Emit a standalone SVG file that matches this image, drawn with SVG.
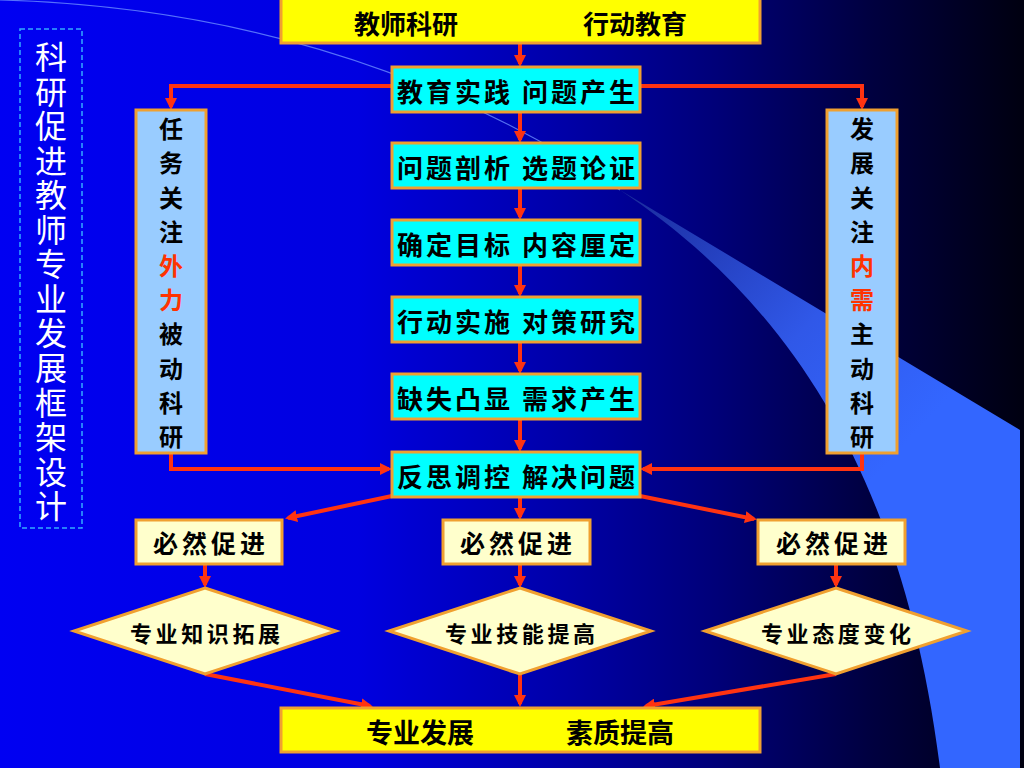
<svg xmlns="http://www.w3.org/2000/svg" width="1024" height="768" viewBox="0 0 1024 768">
<defs>
<linearGradient id="bg" x1="0" y1="0" x2="1" y2="0">
<stop offset="0" stop-color="#0000f2"/>
<stop offset="0.35" stop-color="#0000e0"/>
<stop offset="0.55" stop-color="#0000a8"/>
<stop offset="0.7" stop-color="#000078"/>
<stop offset="0.85" stop-color="#000040"/>
<stop offset="1" stop-color="#000010"/>
</linearGradient>
<linearGradient id="wedge" gradientUnits="userSpaceOnUse" x1="620" y1="190" x2="900" y2="450">
<stop offset="0" stop-color="#1a2a9a"/>
<stop offset="0.6" stop-color="#3058e8"/>
<stop offset="1" stop-color="#3366ff"/>
</linearGradient>
<marker id="ah" viewBox="0 0 12 12" refX="9" refY="6" markerWidth="12" markerHeight="12" markerUnits="userSpaceOnUse" orient="auto">
<path d="M0,0 L12,6 L0,12 z" fill="#ff3311"/>
</marker>
<style>
.yel{fill:#ffff00;stroke:#f0a030;stroke-width:3}
.cy{fill:#00ffff;stroke:#f0a030;stroke-width:3}
.lb{fill:#99ccff;stroke:#f0a030;stroke-width:3}
.cr{fill:#ffffcc;stroke:#f0a030;stroke-width:3}
.t{font-family:"Noto Sans CJK SC","Noto Sans",sans-serif;font-weight:700;fill:#000;text-anchor:middle;dominant-baseline:central}
.red{fill:#ff3300}
.c{fill:none;stroke:#ff3311;stroke-width:4;marker-end:url(#ah)}
.title{font-family:"Noto Sans CJK SC","Noto Sans",sans-serif;font-size:32px;fill:#ffffff;writing-mode:vertical-rl;text-orientation:upright}
.vt{writing-mode:vertical-rl;text-orientation:upright;text-anchor:start}
</style>
</defs>
<rect x="0" y="0" width="1024" height="768" fill="url(#bg)"/>
<g id="decor">
<path d="M620,190 L1020,430 L1020,768 L940,768 C900,450 770,290 620,190 Z" fill="url(#wedge)"/>
<path d="M0,0 Q350,10 620,190" fill="none" stroke="#6a8cff" stroke-width="1.2" opacity="0.8"/>
</g>
<g id="title">
<rect x="20" y="29" width="62" height="499" fill="none" stroke="#33aaff" stroke-width="1.5" stroke-dasharray="5,3"/>
<text class="title" x="51" y="41" textLength="481" lengthAdjust="spacing">科研促进教师专业发展框架设计</text>
</g>
<g id="connectors">
<path class="c" d="M520,43 L520,64"/>
<path class="c" d="M392,86 L171,86 L171,107"/>
<path class="c" d="M640,86 L862,86 L862,107"/>
<path class="c" d="M520,112 L520,140"/>
<path class="c" d="M520,188 L520,217"/>
<path class="c" d="M520,265 L520,294"/>
<path class="c" d="M520,342 L520,371"/>
<path class="c" d="M520,419 L520,449"/>
<path class="c" d="M171,453 L171,469 L389,469"/>
<path class="c" d="M862,453 L862,469 L643,469"/>
<path class="c" d="M392,496 L288,518"/>
<path class="c" d="M520,497 L520,517"/>
<path class="c" d="M640,496 L754,519"/>
<path class="c" d="M205,564 L205,585"/>
<path class="c" d="M520,564 L520,585"/>
<path class="c" d="M836,564 L836,585"/>
<path class="c" d="M205,674 L370,706"/>
<path class="c" d="M520,674 L520,704"/>
<path class="c" d="M836,674 L646,706"/>
</g>
<g id="n-top">
<rect class="yel" x="281" y="-2" width="479" height="45"/>
<text class="t" font-size="26" y="22"><tspan x="406">教师科研</tspan><tspan x="635">行动教育</tspan></text>
</g>
<g id="n-c1"><rect class="cy" x="392" y="67" width="248" height="45"/><text class="t" font-size="26" x="516" y="90" textLength="238" lengthAdjust="spacing">教育实践 问题产生</text></g>
<g id="n-c2"><rect class="cy" x="392" y="143" width="248" height="45"/><text class="t" font-size="26" x="516" y="166" textLength="238" lengthAdjust="spacing">问题剖析 选题论证</text></g>
<g id="n-c3"><rect class="cy" x="392" y="220" width="248" height="45"/><text class="t" font-size="26" x="516" y="243" textLength="238" lengthAdjust="spacing">确定目标 内容厘定</text></g>
<g id="n-c4"><rect class="cy" x="392" y="297" width="248" height="45"/><text class="t" font-size="26" x="516" y="320" textLength="238" lengthAdjust="spacing">行动实施 对策研究</text></g>
<g id="n-c5"><rect class="cy" x="392" y="374" width="248" height="45"/><text class="t" font-size="26" x="516" y="397" textLength="238" lengthAdjust="spacing">缺失凸显 需求产生</text></g>
<g id="n-c6"><rect class="cy" x="392" y="452" width="248" height="45"/><text class="t" font-size="26" x="516" y="475" textLength="238" lengthAdjust="spacing">反思调控 解决问题</text></g>
<g id="n-left">
<rect class="lb" x="136" y="110" width="70" height="343"/>
<text class="t vt" font-size="24" x="171" y="117" textLength="332" lengthAdjust="spacing">任务关注<tspan class="red">外力</tspan>被动科研</text>
</g>
<g id="n-right">
<rect class="lb" x="827" y="110" width="70" height="343"/>
<text class="t vt" font-size="24" x="862" y="117" textLength="332" lengthAdjust="spacing">发展关注<tspan class="red">内需</tspan>主动科研</text>
</g>
<g id="n-b1"><rect class="cr" x="136" y="520" width="146" height="44"/><text class="t" font-size="25" x="209" y="542" textLength="112" lengthAdjust="spacing">必然促进</text></g>
<g id="n-b2"><rect class="cr" x="443" y="520" width="147" height="44"/><text class="t" font-size="25" x="516" y="542" textLength="112" lengthAdjust="spacing">必然促进</text></g>
<g id="n-b3"><rect class="cr" x="758" y="520" width="147" height="44"/><text class="t" font-size="25" x="832" y="542" textLength="112" lengthAdjust="spacing">必然促进</text></g>
<g id="n-d1"><polygon class="cr" points="205,588 336,631 205,674 74,631"/><text class="t" font-size="22" x="205" y="632" textLength="150" lengthAdjust="spacing">专业知识拓展</text></g>
<g id="n-d2"><polygon class="cr" points="520,588 651,631 520,674 389,631"/><text class="t" font-size="22" x="520" y="632" textLength="150" lengthAdjust="spacing">专业技能提高</text></g>
<g id="n-d3"><polygon class="cr" points="836,588 967,631 836,674 705,631"/><text class="t" font-size="22" x="836" y="632" textLength="150" lengthAdjust="spacing">专业态度变化</text></g>
<g id="n-bottom">
<rect class="yel" x="281" y="708" width="479" height="44"/>
<text class="t" font-size="27" y="731"><tspan x="420">专业发展</tspan><tspan x="620">素质提高</tspan></text>
</g>
</svg>
